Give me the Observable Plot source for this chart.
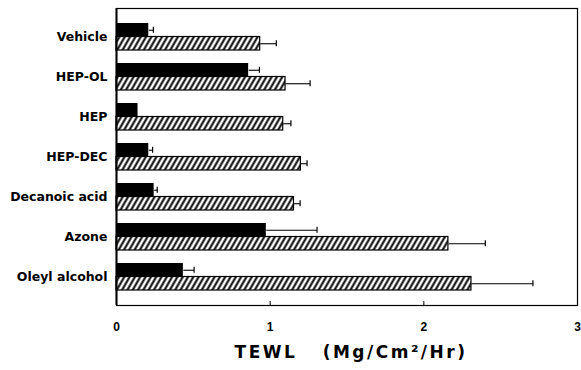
<!DOCTYPE html>
<html>
<head>
<meta charset="utf-8">
<script src="https://cdn.jsdelivr.net/npm/d3@7"></script>
<script src="https://cdn.jsdelivr.net/npm/@observablehq/plot@0.6"></script>
<style>
  html, body { margin: 0; padding: 0; background: white; }
</style>
</head>
<body>
<div id="chart"></div>
<script>
const categories = ["Vehicle", "HEP-OL", "HEP", "HEP-DEC", "Decanoic acid", "Azone", "Oleyl alcohol"];
const solidValues = [0.21, 0.86, 0.14, 0.21, 0.245, 0.975, 0.435];
const solidErrors = [0.03, 0.07, 0, 0.025, 0.02, 0.33, 0.07];
const hatchedValues = [0.935, 1.10, 1.085, 1.20, 1.155, 2.16, 2.31];
const hatchedErrors = [0.105, 0.16, 0.05, 0.04, 0.04, 0.24, 0.40];
const xTicks = [0, 1, 2, 3];
const xLabel = "TEWL\u00a0\u00a0\u00a0(Mg/Cm²/Hr)";

const rows = categories.map((cat, i) => ({
  cat,
  solid: solidValues[i],
  solidErr: solidErrors[i],
  hatched: hatchedValues[i],
  hatchedErr: hatchedErrors[i]
}));

const half = 13.5;

const plot = Plot.plot({
  width: 581,
  height: 370,
  marginLeft: 116,
  marginRight: 4,
  marginTop: 8,
  marginBottom: 65,
  x: {domain: [0, 3]},
  y: {domain: categories, paddingInner: 1/3, paddingOuter: 1/3},
  style: {fontFamily: "'DejaVu Sans', sans-serif", fontWeight: "bold", background: "white", color: "black"},
  marks: [
    Plot.barX(rows, {x: "solid", y: "cat", fill: "black", insetBottom: half}),
    Plot.barX(rows, {x: "hatched", y: "cat", fill: "url(#hatch)", stroke: "black", strokeWidth: 1.2, insetTop: half}),
    Plot.link(rows.filter(d => d.solidErr > 0), {x1: "solid", x2: d => d.solid + d.solidErr, y1: "cat", y2: "cat", dy: -half / 2, stroke: "black", strokeWidth: 1.1}),
    Plot.tickX(rows.filter(d => d.solidErr > 0), {x: d => d.solid + d.solidErr, y: "cat", insetTop: 3.75, insetBottom: 17.25, stroke: "black", strokeWidth: 1.2}),
    Plot.link(rows, {x1: "hatched", x2: d => d.hatched + d.hatchedErr, y1: "cat", y2: "cat", dy: half / 2, stroke: "black", strokeWidth: 1.1}),
    Plot.tickX(rows, {x: d => d.hatched + d.hatchedErr, y: "cat", insetTop: 17.25, insetBottom: 3.75, stroke: "black", strokeWidth: 1.2}),
    Plot.frame({stroke: "black", strokeWidth: 1.2}),
    Plot.ruleX([0], {stroke: "black", strokeWidth: 2}),
    Plot.axisY({tickSize: 0, tickPadding: 9, fontSize: 12.5, label: null}),
    Plot.axisX({ticks: xTicks, tickSize: 0, tickPadding: 17, fontSize: 12, fontFamily: "'Liberation Sans', Arial, sans-serif", tickFormat: d => String(d), label: null}),
    Plot.axisX({ticks: [1, 2], tickSize: 4, dy: -4, tickFormat: () => "", label: null}),
    Plot.text([xLabel], {text: d => d, frameAnchor: "bottom", dy: 52, dx: 4, fontSize: 17})
  ]
});

const svg = d3.select(plot);
const defs = svg.insert("defs", ":first-child");
const pat = defs.append("pattern")
  .attr("id", "hatch")
  .attr("patternUnits", "userSpaceOnUse")
  .attr("width", 4.6)
  .attr("height", 10)
  .attr("patternTransform", "rotate(30)");
pat.append("rect").attr("width", 4.6).attr("height", 10).attr("fill", "white");
pat.append("line").attr("x1", 2.3).attr("x2", 2.3).attr("y1", -1).attr("y2", 11)
  .attr("stroke", "black").attr("stroke-width", 2);

svg.selectAll("text").filter(function() { return this.textContent.startsWith("TEWL"); })
  .attr("letter-spacing", "2.5px");

document.getElementById("chart").appendChild(plot);
</script>
</body>
</html>
